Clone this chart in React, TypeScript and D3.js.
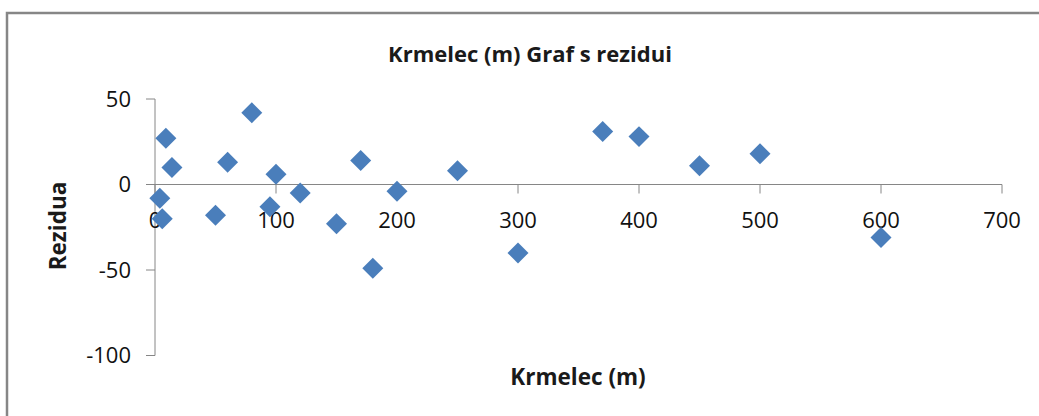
import React from "react";
import * as d3 from "d3";

// Krmelec distance (m) and regression residuals
const krmelec: number[] = [4, 9, 14, 6, 50, 60, 80, 95, 100, 120, 150, 170, 180, 200, 250, 300, 370, 400, 450, 500, 600];
const rezidua: number[] = [-8, 27, 10, -20, -18, 13, 42, -13, 6, -5, -23, 14, -49, -4, 8, -40, 31, 28, 11, 18, -31];

const xTicks: number[] = [0, 100, 200, 300, 400, 500, 600, 700];
const yTicks: number[] = [-100, -50, 0, 50];

const title = "Krmelec (m) Graf s rezidui";
const xTitle = "Krmelec (m)";
const yTitle = "Rezidua";

const W = 1039;
const H = 416;
const FONT = "'Open Sans', 'Liberation Sans', sans-serif";
const AXIS = "#868686";
const MARK = "#4a7ebb";

export default function App() {
  const x = d3.scaleLinear().domain([0, 700]).range([155, 1002]);
  const y = d3.scaleLinear().domain([-100, 50]).range([355.5, 99]);
  const diamond = d3.symbol(d3.symbolSquare, 220)();
  const points = krmelec.map((k, i) => ({ k, r: rezidua[i] }));

  return (
    <svg
      width={W}
      height={H}
      style={{ position: "absolute", left: 0, top: 0, background: "#fff" }}
      fontFamily={FONT}
    >
      <rect x={0} y={0} width={W} height={H} fill="#fff" />
      {/* chart frame */}
      <rect x={7} y={13} width={W + 50} height={H + 50} fill="none" stroke={AXIS} strokeWidth={2.5} />

      <text x={530} y={62} textAnchor="middle" fontWeight="bold" fontSize={22} fill="#1a1a1a">
        {title}
      </text>

      {/* y axis */}
      <line x1={x(0)} x2={x(0)} y1={y(50)} y2={y(-100)} stroke={AXIS} strokeWidth={1} />
      {yTicks.map((t) => (
        <g key={"y" + t}>
          <line x1={x(0) - 9} x2={x(0)} y1={y(t)} y2={y(t)} stroke={AXIS} strokeWidth={1} />
          <text x={131} y={y(t)} dy="0.36em" textAnchor="end" fontSize={22} fill="#111">
            {t}
          </text>
        </g>
      ))}

      {/* x axis crossing at zero */}
      <line x1={x(0)} x2={x(700)} y1={y(0)} y2={y(0)} stroke={AXIS} strokeWidth={1} />
      {xTicks.map((t) => (
        <g key={"x" + t}>
          <line x1={x(t)} x2={x(t)} y1={y(0)} y2={y(0) + 9} stroke={AXIS} strokeWidth={1} />
          <text x={x(t)} y={228} textAnchor="middle" fontSize={22} fill="#111">
            {t}
          </text>
        </g>
      ))}

      {points.map((p, i) => (
        <path
          key={i}
          d={diamond || ""}
          transform={`translate(${x(p.k)},${y(p.r)}) rotate(45)`}
          fill={MARK}
        />
      ))}

      <text x={578} y={385} textAnchor="middle" fontWeight="bold" fontSize={22.5} fill="#1a1a1a">
        {xTitle}
      </text>
      <text
        transform={`translate(66,226) rotate(-90)`}
        textAnchor="middle"
        fontWeight="bold"
        fontSize={22.5}
        fill="#1a1a1a"
      >
        {yTitle}
      </text>
    </svg>
  );
}
